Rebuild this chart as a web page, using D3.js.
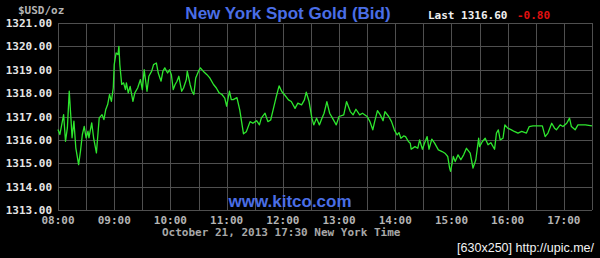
<!DOCTYPE html>
<html><head><meta charset="utf-8">
<script src="https://cdn.jsdelivr.net/npm/d3@7"></script>
<style>html,body{margin:0;padding:0;background:#000;}svg{display:block;}</style>
</head><body>
<script>
// minutes after 08:00 New York time
const minutes = [0,2,6,8,10,12,14,15,17,19,22,24,26,28,30,32,33,36,38,41,42,44,47,49,51,53,55,57,59,60,62,64,65,66,68,70,72,73,75,77,80,82,85,88,90,92,95,97,100,102,105,107,110,112,114,117,119,121,123,125,127,129,132,134,137,138,141,143,145,147,150,152,155,159,162,166,169,172,175,178,180,183,185,187,191,194,198,201,205,208,212,215,217,221,224,227,230,233,236,239,242,246,249,253,256,260,263,265,268,271,273,276,279,281,284,287,290,293,297,300,305,308,312,315,318,322,325,330,333,336,338,341,344,347,349,353,356,359,362,364,366,369,371,374,376,377,381,384,386,389,391,394,396,399,402,406,410,413,416,418,419,422,424,427,430,433,436,440,443,446,449,450,453,456,459,462,466,468,470,472,475,477,480,484,487,491,495,500,503,507,512,517,520,523,527,530,532,536,539,543,546,548,552,555,563,570];
const bid = [1316.44,1316.23,1317.08,1315.94,1316.51,1318.08,1316.8,1316.09,1316.8,1315.66,1314.94,1315.52,1316.23,1316.58,1316.09,1316.37,1316.09,1316.73,1316.09,1315.44,1315.94,1316.94,1317.08,1316.87,1317.3,1317.51,1317.94,1317.65,1318.22,1319.22,1319.72,1319.65,1320.0,1319.22,1318.37,1318.44,1318.15,1318.44,1318.01,1318.29,1317.65,1318.01,1318.22,1318.58,1318.15,1319.0,1318.08,1318.72,1318.94,1319.22,1319.29,1318.86,1318.51,1318.94,1319.08,1318.86,1319.0,1318.79,1318.15,1318.37,1318.51,1318.72,1318.08,1318.22,1318.58,1318.94,1318.37,1318.08,1317.94,1318.65,1318.94,1319.08,1318.94,1318.79,1318.65,1318.37,1318.22,1318.01,1317.94,1317.79,1317.44,1318.08,1317.72,1317.72,1317.81,1317.28,1316.26,1316.35,1316.78,1316.71,1316.82,1316.64,1316.93,1317.14,1316.78,1316.85,1317.35,1317.85,1318.31,1318.06,1317.92,1317.71,1317.64,1317.35,1317.57,1317.5,1317.71,1318.04,1317.64,1316.93,1316.64,1316.93,1316.64,1316.85,1317.14,1317.64,1317.14,1316.93,1316.64,1317.0,1317.07,1317.64,1317.21,1317.07,1317.31,1317.07,1317.14,1317.0,1316.78,1316.43,1316.78,1317.25,1317.07,1316.82,1317.21,1317.0,1316.78,1316.43,1316.21,1316.31,1316.07,1316.17,1316.14,1315.93,1315.86,1315.6,1315.71,1315.64,1316.0,1315.6,1315.83,1316.14,1315.6,1316.03,1315.86,1315.57,1315.5,1315.43,1315.29,1314.79,1314.65,1315.29,1315.07,1315.36,1315.15,1315.36,1315.64,1315.43,1314.79,1315.15,1316.07,1315.71,1315.93,1316.07,1315.79,1315.88,1315.6,1316.29,1316.43,1316.0,1316.07,1316.64,1316.5,1316.43,1316.36,1316.29,1316.36,1316.29,1316.57,1316.6,1316.6,1316.6,1316.14,1316.29,1316.71,1316.5,1316.43,1316.64,1316.57,1316.71,1316.93,1316.57,1316.43,1316.64,1316.64,1316.6];
const yTicks = [1313,1314,1315,1316,1317,1318,1319,1320,1321];
const xTickLabels = ["08:00","09:00","10:00","11:00","12:00","13:00","14:00","15:00","16:00","17:00"];
const title = "New York Spot Gold (Bid)";
const lastLabel = "Last 1316.60";
const changeLabel = "-0.80";
const unitLabel = "$USD/oz";
const dateLabel = "October 21, 2013 17:30 New York Time";
const siteLabel = "www.kitco.com";
const watermark = "[630x250] http://upic.me/";

const W = 600, H = 258;
const L = 58, R = 592, T = 23, B = 210;
const svg = d3.select("body").append("svg").attr("width", W).attr("height", H).style("background", "#000");

const base = new Date(2013, 9, 21, 8, 0);
const tm = m => new Date(base.getTime() + m * 60000);
const x = d3.scaleTime().domain([tm(0), tm(570)]).range([L, R]);
const y = d3.scaleLinear().domain([1313, 1321]).range([B, T]);

const mono = "'DejaVu Sans Mono', monospace";

// grid
const halfHours = d3.range(0, 571, 30).map(tm);
svg.append("g").selectAll("line").data(halfHours).join("line")
  .attr("x1", d => Math.round(x(d)) + 0.5).attr("x2", d => Math.round(x(d)) + 0.5)
  .attr("y1", T).attr("y2", B).attr("stroke", "#4f4f4f").attr("stroke-width", 1);
svg.append("g").selectAll("line").data(yTicks).join("line")
  .attr("x1", L).attr("x2", R)
  .attr("y1", d => Math.round(y(d)) + 0.5).attr("y2", d => Math.round(y(d)) + 0.5)
  .attr("stroke", "#4f4f4f").attr("stroke-width", 1);

// y labels
svg.append("g").selectAll("text").data(yTicks).join("text")
  .attr("x", 52).attr("y", d => y(d) + 4)
  .attr("text-anchor", "end").attr("fill", "#e6e6e6")
  .attr("font-family", mono).attr("font-weight", "bold").attr("font-size", 11)
  .text(d => d3.format(".2f")(d));

// x labels
svg.append("g").selectAll("text").data(xTickLabels).join("text")
  .attr("x", (d, i) => x(tm(i * 60))).attr("y", 224)
  .attr("text-anchor", "middle").attr("fill", "#b4b4b4")
  .attr("font-family", mono).attr("font-weight", "bold").attr("font-size", 11)
  .text(d => d);

// line
const line = d3.line().x((d, i) => x(tm(minutes[i]))).y(d => y(d));
svg.append("path").datum(bid).attr("d", line)
  .attr("fill", "none").attr("stroke", "#2ee62e").attr("stroke-width", 1.3)
  .attr("stroke-linejoin", "round");

// texts
svg.append("text").attr("x", 18).attr("y", 14).attr("fill", "#b4b4b4")
  .attr("font-family", mono).attr("font-size", 11).attr("font-weight", "bold").text(unitLabel);
svg.append("text").attr("x", 288).attr("y", 19).attr("text-anchor", "middle").attr("fill", "#4a6ee6")
  .attr("font-family", "'Liberation Sans', Arial, sans-serif").attr("font-weight", "bold").attr("font-size", 17).text(title);
svg.append("text").attr("x", 428).attr("y", 19).attr("fill", "#f0f0f0")
  .attr("font-family", mono).attr("font-weight", "bold").attr("font-size", 11).text(lastLabel);
svg.append("text").attr("x", 517).attr("y", 19).attr("fill", "#e01010")
  .attr("font-family", mono).attr("font-weight", "bold").attr("font-size", 11).text(changeLabel);
svg.append("text").attr("x", 290).attr("y", 207).attr("text-anchor", "middle").attr("fill", "#4a6ee6")
  .attr("font-family", "'Liberation Sans', Arial, sans-serif").attr("font-weight", "bold").attr("font-size", 17).text(siteLabel);
svg.append("text").attr("x", 162).attr("y", 236).attr("fill", "#a8a8a8")
  .attr("font-family", mono).attr("font-weight", "bold").attr("font-size", 11).text(dateLabel);
svg.append("text").attr("x", 594).attr("y", 252).attr("text-anchor", "end").attr("fill", "#f4f4f4")
  .attr("font-family", "'Liberation Sans', Arial, sans-serif").attr("font-size", 12.5).text(watermark);
</script>
</body></html>
